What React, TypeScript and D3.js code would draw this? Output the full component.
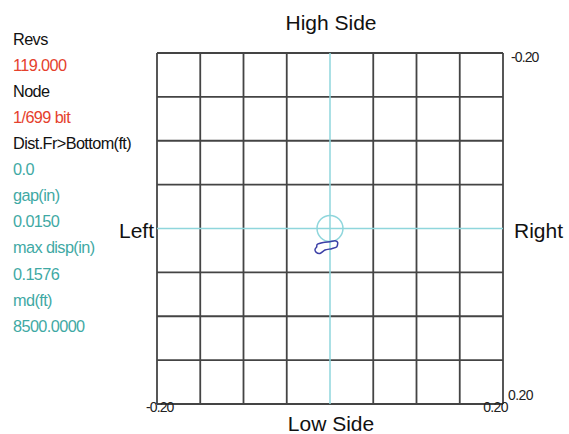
import React from "react";
import * as d3 from "d3";

const statLabels = ["Revs", "Node", "Dist.Fr>Bottom(ft)", "gap(in)", "max disp(in)", "md(ft)"];
const statValues = ["119.000", "1/699 bit", "0.0", "0.0150", "0.1576", "8500.0000"];
const valueColors = ["#e5412d", "#e5412d", "#3fa9a4", "#3fa9a4", "#3fa9a4", "#3fa9a4"];
const labelColors = ["#111", "#111", "#111", "#3fa9a4", "#3fa9a4", "#3fa9a4"];

const domainMin = -0.2;
const domainMax = 0.2;
const gridStep = 0.05;
const gapRadius = 0.015;

// orbit points (x, y) in inches; y positive = toward Low Side
const orbitX = [-0.0147, -0.0078, 0.0, 0.0058, 0.0089, 0.0077, 0.002, -0.0058, -0.0116, -0.0162, -0.0173, -0.0154];
const orbitY = [0.018, 0.016, 0.015, 0.014, 0.016, 0.021, 0.023, 0.0245, 0.0285, 0.027, 0.0237, 0.021];

export default function App() {
  const W = 569, H = 434;
  const x = d3.scaleLinear().domain([domainMin, domainMax]).range([157, 503]);
  const y = d3.scaleLinear().domain([domainMin, domainMax]).range([53, 404]);
  const ticks = d3.range(domainMin, domainMax + 1e-9, gridStep);
  const isCenter = (v: number) => Math.abs(v) < 1e-9;
  const line = d3.line<number>().x((_, i) => x(orbitX[i])).y((_, i) => y(orbitY[i])).curve(d3.curveCardinalClosed.tension(0.3));
  const pts = orbitX.map((_, i) => i);
  const font = "'Liberation Sans', Arial, sans-serif";
  return (
    <svg width={W} height={H} style={{ position: "absolute", left: 0, top: 0, background: "#fff" }} fontFamily={font}>
      <rect width={W} height={H} fill="#fff" />
      {statLabels.map((l, i) => (
        <g key={l}>
          <text x={13} y={45 + i * 2 * 26.06} fontSize={16.3} fill={labelColors[i]} letterSpacing={-0.6}>{l}</text>
          <text x={13} y={45 + (i * 2 + 1) * 26.06} fontSize={16.3} fill={valueColors[i]} letterSpacing={-0.6}>{statValues[i]}</text>
        </g>
      ))}
      {ticks.filter(t => !isCenter(t)).map(t => (
        <g key={"g" + t}>
          <line x1={x(t)} x2={x(t)} y1={y(domainMin)} y2={y(domainMax)} stroke="#444" strokeWidth={1.8} />
          <line y1={y(t)} y2={y(t)} x1={x(domainMin)} x2={x(domainMax)} stroke="#444" strokeWidth={1.8} />
        </g>
      ))}
      <line x1={x(0)} x2={x(0)} y1={y(domainMin)} y2={y(domainMax)} stroke="#8fd6dc" strokeWidth={1.5} />
      <line y1={y(0)} y2={y(0)} x1={x(domainMin)} x2={x(domainMax)} stroke="#8fd6dc" strokeWidth={1.5} />
      <circle cx={x(0)} cy={y(0)} r={x(gapRadius) - x(0)} fill="none" stroke="#8fd6dc" strokeWidth={1.5} />
      <path d={line(pts) || ""} fill="none" stroke="#3b3fa6" strokeWidth={1.5} />
      <text x={331} y={30} fontSize={21} textAnchor="middle" fill="#111">High Side</text>
      <text x={331} y={431} fontSize={21} textAnchor="middle" fill="#111">Low Side</text>
      <text x={154} y={238} fontSize={21} textAnchor="end" fill="#111">Left</text>
      <text x={514} y={238} fontSize={21} fill="#111">Right</text>
      <text x={511} y={62} fontSize={14} fill="#222" letterSpacing={-0.9}>{domainMin.toFixed(2)}</text>
      <text x={508} y={400} fontSize={14} fill="#222" letterSpacing={-0.6}>{domainMax.toFixed(2)}</text>
      <text x={146} y={412} fontSize={14} fill="#222" letterSpacing={-0.9}>{domainMin.toFixed(2)}</text>
      <text x={508} y={412} fontSize={14} fill="#222" textAnchor="end" letterSpacing={-0.6}>{domainMax.toFixed(2)}</text>
    </svg>
  );
}
